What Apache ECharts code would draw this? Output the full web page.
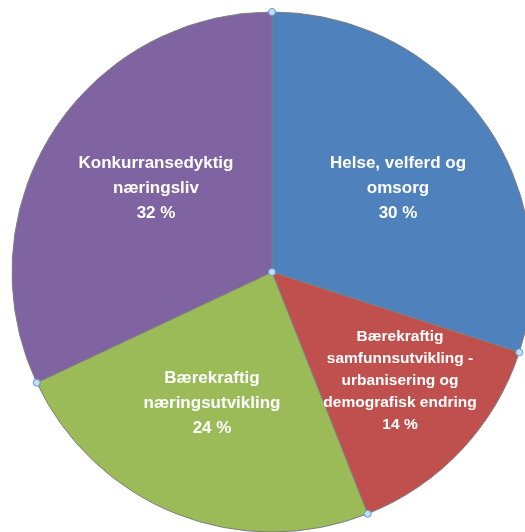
<!DOCTYPE html>
<html>
<head>
<meta charset="utf-8">
<script src="https://cdn.jsdelivr.net/npm/echarts@6/dist/echarts.min.js"></script>
<style>
  html, body { margin: 0; padding: 0; background: #fff; }
  #chart { width: 525px; height: 532px; }
</style>
</head>
<body>
<div id="chart"></div>
<script>
// areas, clockwise from 12 o'clock
const names = [
  'Helse, velferd og\nomsorg',
  'Bærekraftig\nsamfunnsutvikling -\nurbanisering og\ndemografisk endring',
  'Bærekraftig\nnæringsutvikling',
  'Konkurransedyktig\nnæringsliv'
]
const shares = [30, 14, 24, 32]
const colors = ['#4F81BD', '#C0504D', '#9BBB59', '#8064A2']

// label anchor points (centre of text block), not data
const labelSpots = [[398, 188], [400, 381], [212, 403], [156, 188]]

const cx = 272, cy = 272, r = 260

let chart = echarts.init(document.getElementById('chart'))

// little selection handles at the slice boundaries
let handles = []
let acc = 0
let pts = [[cx, cy]]
shares.forEach(v => {
  let a = acc / 100 * Math.PI * 2
  pts.push([cx + r * Math.sin(a), cy - r * Math.cos(a)])
  acc += v
})
pts.forEach(p => {
  handles.push({
    type: 'circle',
    shape: {cx: p[0], cy: p[1], r: 3.5},
    style: {fill: '#C6DDF2', stroke: '#5B9BD5', lineWidth: 1},
    z: 100
  })
})

chart.setOption({
  animation: false,
  color: colors,
  series: [{
    type: 'pie',
    center: [cx, cy],
    radius: [0, r],
    startAngle: 90,
    clockwise: true,
    itemStyle: {borderColor: '#7F7F7F', borderWidth: 1},
    label: {
      show: true,
      position: 'inside',
      color: '#fff',
      fontFamily: 'Liberation Sans',
      fontWeight: 'bold',
      fontSize: 17,
      lineHeight: 25,
      align: 'center',
      formatter: p => p.name + '\n' + p.value + ' %'
    },
    labelLine: {show: false},
    labelLayout: p => ({
      x: labelSpots[p.dataIndex][0],
      y: labelSpots[p.dataIndex][1],
      align: 'center',
      verticalAlign: 'middle'
    }),
    emphasis: {disabled: true},
    data: names.map((n, i) => ({
      name: n,
      value: shares[i],
      label: i === 1 ? {fontSize: 15.5, lineHeight: 22} : {}
    }))
  }],
  graphic: handles
})
</script>
</body>
</html>
